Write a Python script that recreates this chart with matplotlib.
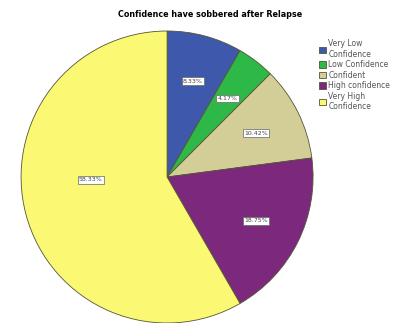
import numpy as np
import matplotlib.pyplot as plt

# share of respondents per confidence level (n = 48)
categories = ["Very Low\nConfidence", "Low Confidence", "Confident",
              "High confidence", "Very High\nConfidence"]
shares = [8.33, 4.17, 10.42, 18.75, 58.33]
colors = ["#3e58ac", "#2eb848", "#d3ce97", "#7c287d", "#fbf873"]

fig = plt.figure(figsize=(4.08, 3.23), dpi=100)
ax = fig.add_axes([0.0515, 0.0, 0.716, 0.904])

wedges, texts, autotexts = ax.pie(
    shares, colors=colors, startangle=90, counterclock=False,
    autopct="%.2f%%", pctdistance=0.68,
    wedgeprops=dict(edgecolor="#555533", linewidth=0.6))
ax.set_xlim(-1, 1)
ax.set_ylim(-1, 1)

# pull the big slice's label a little towards the centre
for w, t in zip(wedges, autotexts):
    t.set_fontsize(4.5)
    t.set_color("#444444")
    t.set_bbox(dict(facecolor="white", edgecolor="#666666", linewidth=0.5, pad=0.8))
    if w.theta2 - w.theta1 > 180:
        mid = np.deg2rad((w.theta1 + w.theta2) / 2)
        t.set_position((0.54 * np.cos(mid), 0.54 * np.sin(mid) + 0.12))

fig.text(0.515, 0.955, "Confidence have sobbered after Relapse",
         ha="center", va="center", fontsize=5.8, fontweight="bold")

fig.legend(wedges, categories, loc="upper left", bbox_to_anchor=(0.765, 0.9),
           frameon=False, fontsize=5.5, handlelength=0.9, handleheight=0.9,
           labelspacing=0.2, handletextpad=0.3, labelcolor="#555555")

fig.savefig("out.png", dpi=100)
